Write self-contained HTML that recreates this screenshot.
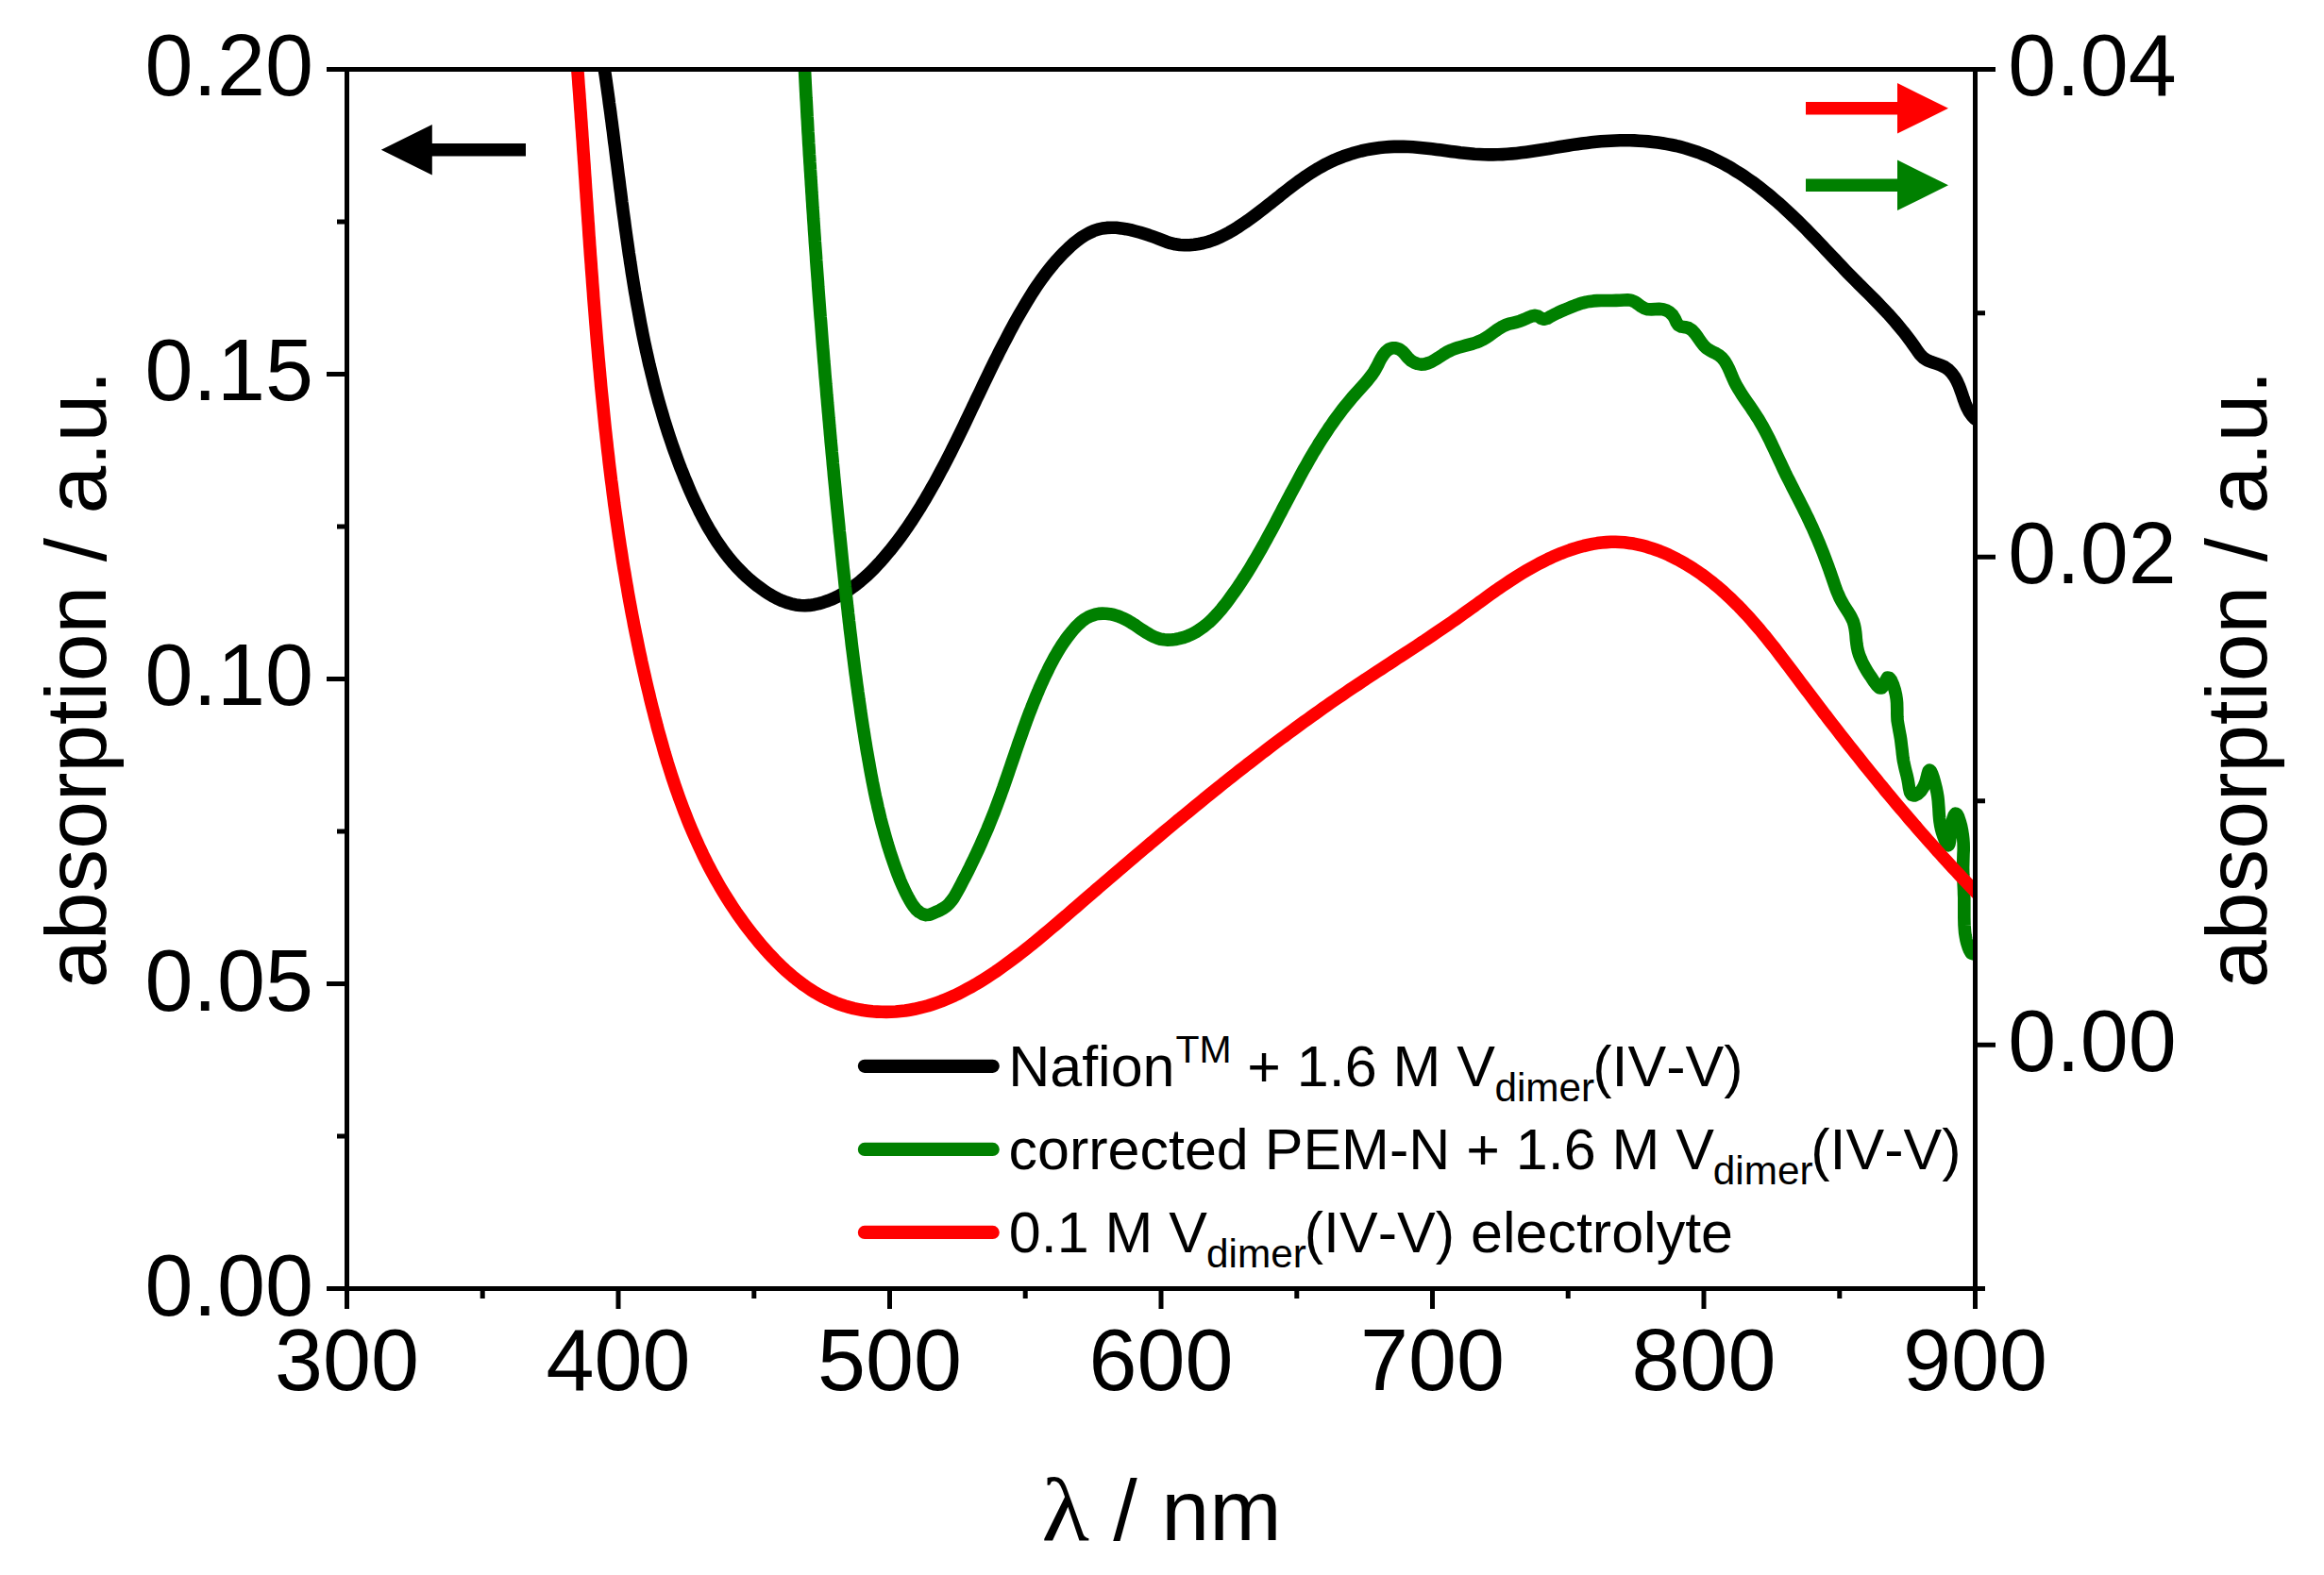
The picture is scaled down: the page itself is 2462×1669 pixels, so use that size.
<!DOCTYPE html>
<html lang="en"><head><meta charset="utf-8"><title>UV/Vis absorption</title>
<style>
html,body{margin:0;padding:0;background:#fff;}
body{width:2462px;height:1669px;overflow:hidden;}
svg{display:block;}
text{font-family:"Liberation Sans",Arial,Helvetica,sans-serif;fill:#000;font-kerning:none;}
.tk{font-size:91.67px;}
.dg{font-size:93.50px;}
.lg{font-size:61.0px;}
.sm{font-size:42.3px;}
.sp{font-size:41px;}
.gr{font-family:"Liberation Serif","DejaVu Serif",serif;}
.ax{stroke:#000;stroke-width:5.0;fill:none;stroke-linecap:butt;}
.cv{fill:none;stroke-width:13.6;stroke-linejoin:round;stroke-linecap:round;}
</style></head><body>
<svg width="2462" height="1669" viewBox="0 0 2462 1669">
<rect width="2462" height="1669" fill="#fff"/>
<defs><clipPath id="pc"><rect x="367.5" y="73.4" width="1725.0" height="1292.2"/></clipPath></defs>
<g clip-path="url(#pc)">
<path class="cv" stroke="#000" d="M638.3 60.1L639.0 65.0L639.8 70.0L640.5 74.9L641.3 79.9L642.0 84.8L642.7 89.8L643.4 94.7L644.1 99.7L644.8 104.6L645.4 109.6L646.1 114.5L646.8 119.5L647.4 124.5L648.1 129.4L648.7 134.4L649.4 139.4L650.0 144.4L650.6 149.3L651.3 154.3L651.9 159.3L652.5 164.3L653.1 169.2L653.8 174.2L654.4 179.2L655.0 184.2L655.7 189.2L656.3 194.1L656.9 199.1L657.6 204.1L658.2 209.1L658.8 214.1L659.5 219.0L660.1 224.0L660.8 229.0L661.5 234.0L662.1 238.9L662.8 243.9L663.5 248.9L664.2 253.9L664.9 258.8L665.6 263.8L666.3 268.8L667.1 273.7L667.8 278.7L668.6 283.6L669.3 288.6L670.1 293.5L670.9 298.5L671.7 303.4L672.5 308.4L673.4 313.3L674.2 318.3L675.1 323.2L676.0 328.1L676.9 333.0L677.8 338.0L678.7 342.9L679.7 347.8L680.6 352.7L681.6 357.6L682.6 362.5L683.7 367.4L684.7 372.3L685.8 377.1L686.9 382.0L688.0 386.9L689.2 391.7L690.4 396.6L691.6 401.4L692.8 406.3L694.0 411.1L695.3 416.0L696.6 420.8L697.9 425.6L699.3 430.4L700.7 435.2L702.1 440.0L703.5 444.8L705.0 449.6L706.5 454.4L708.0 459.1L709.6 463.9L711.2 468.6L712.8 473.4L714.5 478.1L716.2 482.8L717.9 487.5L719.7 492.3L721.5 497.0L723.4 501.6L725.2 506.3L727.2 511.0L729.1 515.6L731.1 520.3L733.1 524.9L735.2 529.5L737.4 534.1L739.6 538.6L741.8 543.2L744.1 547.6L746.5 552.1L748.9 556.5L751.4 560.8L754.0 565.1L756.6 569.4L759.3 573.6L762.1 577.7L765.0 581.8L767.9 585.7L771.0 589.7L774.1 593.5L777.3 597.3L780.6 601.0L784.1 604.6L787.6 608.1L791.2 611.5L794.9 614.8L798.8 618.0L802.7 621.1L806.8 624.1L810.9 627.0L815.2 629.7L819.6 632.3L824.1 634.6L828.7 636.7L833.3 638.4L838.1 639.8L842.9 640.9L847.8 641.5L852.7 641.7L857.6 641.4L862.6 640.7L867.5 639.6L872.4 638.2L877.3 636.5L882.1 634.6L886.7 632.4L891.2 630.0L895.6 627.4L899.8 624.7L903.9 621.8L907.9 618.8L911.7 615.7L915.5 612.4L919.2 609.1L922.8 605.6L926.3 602.1L929.7 598.4L933.1 594.8L936.4 591.0L939.6 587.2L942.8 583.4L945.9 579.5L949.0 575.6L952.0 571.6L955.0 567.6L957.9 563.5L960.8 559.4L963.6 555.2L966.4 551.1L969.1 546.9L971.8 542.6L974.5 538.4L977.1 534.1L979.7 529.8L982.2 525.4L984.7 521.1L987.2 516.7L989.7 512.4L992.1 508.0L994.5 503.6L996.8 499.2L999.2 494.7L1001.5 490.3L1003.8 485.8L1006.1 481.4L1008.3 476.9L1010.6 472.4L1012.8 467.9L1015.0 463.4L1017.2 458.9L1019.4 454.4L1021.6 449.9L1023.8 445.3L1025.9 440.8L1028.1 436.3L1030.2 431.7L1032.4 427.2L1034.5 422.7L1036.7 418.2L1038.9 413.6L1041.0 409.1L1043.2 404.6L1045.4 400.1L1047.5 395.6L1049.7 391.1L1051.9 386.6L1054.1 382.1L1056.4 377.6L1058.6 373.1L1060.9 368.6L1063.2 364.2L1065.5 359.8L1067.8 355.3L1070.1 350.9L1072.5 346.5L1074.9 342.1L1077.3 337.8L1079.8 333.4L1082.3 329.1L1084.8 324.8L1087.4 320.5L1090.0 316.2L1092.6 312.0L1095.3 307.8L1098.1 303.6L1100.9 299.5L1103.8 295.4L1106.7 291.4L1109.8 287.4L1112.9 283.5L1116.1 279.6L1119.4 275.8L1122.8 272.1L1126.3 268.4L1130.0 264.8L1133.7 261.3L1137.5 257.9L1141.5 254.7L1145.5 251.8L1149.7 249.1L1154.1 246.7L1158.5 244.7L1163.1 243.1L1167.8 242.0L1172.6 241.4L1177.6 241.2L1182.6 241.3L1187.7 241.9L1192.8 242.7L1197.8 243.7L1202.8 245.0L1207.7 246.3L1212.6 247.8L1217.3 249.3L1221.9 250.9L1226.5 252.6L1231.0 254.4L1235.6 256.2L1240.3 257.7L1245.1 258.8L1250.0 259.5L1255.0 259.8L1260.0 259.7L1265.1 259.3L1270.0 258.5L1274.9 257.5L1279.7 256.2L1284.4 254.6L1289.1 252.8L1293.6 250.8L1298.0 248.5L1302.4 246.2L1306.8 243.6L1311.0 241.0L1315.2 238.2L1319.4 235.4L1323.5 232.5L1327.6 229.5L1331.6 226.5L1335.6 223.4L1339.6 220.3L1343.6 217.2L1347.6 214.1L1351.5 210.9L1355.5 207.8L1359.4 204.6L1363.4 201.5L1367.4 198.4L1371.4 195.4L1375.4 192.4L1379.5 189.5L1383.6 186.6L1387.7 183.9L1391.9 181.2L1396.2 178.6L1400.5 176.2L1404.8 173.8L1409.3 171.6L1413.8 169.5L1418.4 167.6L1423.0 165.8L1427.7 164.2L1432.5 162.6L1437.3 161.3L1442.1 160.0L1447.0 158.9L1451.9 158.0L1456.9 157.2L1461.8 156.5L1466.8 156.0L1471.8 155.6L1476.8 155.4L1481.9 155.3L1486.9 155.4L1491.9 155.5L1496.9 155.8L1501.9 156.2L1507.0 156.7L1512.0 157.2L1517.0 157.8L1522.0 158.4L1527.0 159.1L1532.0 159.7L1537.0 160.4L1542.0 161.0L1547.0 161.7L1552.0 162.2L1557.0 162.7L1562.0 163.2L1567.0 163.5L1571.9 163.8L1576.9 163.9L1581.9 163.9L1586.8 163.8L1591.8 163.6L1596.7 163.3L1601.7 162.9L1606.6 162.4L1611.6 161.8L1616.5 161.2L1621.5 160.5L1626.4 159.8L1631.4 159.0L1636.3 158.3L1641.3 157.5L1646.2 156.6L1651.2 155.8L1656.2 155.0L1661.1 154.2L1666.1 153.4L1671.1 152.7L1676.1 152.0L1681.1 151.4L1686.1 150.8L1691.1 150.3L1696.1 149.8L1701.2 149.5L1706.2 149.2L1711.2 149.0L1716.2 148.8L1721.3 148.8L1726.3 148.8L1731.3 148.9L1736.3 149.2L1741.3 149.5L1746.2 149.9L1751.2 150.4L1756.1 151.0L1761.0 151.7L1765.9 152.6L1770.8 153.5L1775.6 154.5L1780.4 155.7L1785.2 157.0L1789.9 158.4L1794.6 159.9L1799.3 161.5L1803.9 163.3L1808.4 165.1L1813.0 167.1L1817.5 169.3L1821.9 171.5L1826.3 173.8L1830.7 176.2L1835.0 178.7L1839.3 181.4L1843.6 184.1L1847.8 186.8L1851.9 189.7L1856.1 192.6L1860.2 195.6L1864.2 198.7L1868.2 201.8L1872.2 205.0L1876.1 208.3L1880.0 211.6L1883.9 214.9L1887.7 218.3L1891.4 221.7L1895.2 225.2L1898.9 228.7L1902.5 232.2L1906.2 235.7L1909.7 239.2L1913.3 242.8L1916.8 246.4L1920.2 249.9L1923.7 253.5L1927.1 257.1L1930.5 260.7L1933.9 264.3L1937.3 267.9L1940.7 271.4L1944.1 275.0L1947.5 278.6L1950.9 282.2L1954.3 285.8L1957.8 289.4L1961.3 293.0L1964.8 296.5L1968.3 300.1L1971.9 303.6L1975.5 307.2L1979.1 310.8L1982.6 314.3L1986.2 317.9L1989.7 321.5L1993.1 325.1L1996.6 328.7L2000.0 332.3L2003.3 336.0L2006.6 339.7L2009.8 343.5L2013.0 347.3L2016.2 351.2L2019.3 355.2L2022.3 359.2L2025.3 363.2L2028.2 367.3L2031.1 371.5L2034.0 375.5L2037.4 379.0L2041.3 381.6L2045.9 383.5L2050.8 385.1L2055.7 386.8L2060.3 389.0L2064.2 391.8L2067.6 395.2L2070.5 399.2L2073.0 403.6L2075.1 408.2L2076.9 413.0L2078.6 417.8L2080.2 422.6L2081.9 427.3L2083.8 431.9L2086.1 436.2L2089.0 440.3L2092.5 444.1"/>
<path class="cv" stroke="#008000" d="M851.8 60.0L852.0 64.0L852.2 68.0L852.4 72.0L852.6 76.0L852.8 80.0L853.0 84.0L853.2 88.0L853.4 92.0L853.6 96.0L853.8 100.0L854.0 104.0L854.3 108.0L854.5 111.9L854.7 115.9L854.9 119.9L855.1 123.9L855.4 127.9L855.6 131.9L855.8 135.9L856.0 139.9L856.3 143.9L856.5 147.9L856.7 151.9L857.0 155.9L857.2 159.9L857.4 163.9L857.7 167.9L857.9 171.9L858.2 175.9L858.4 179.9L858.7 183.9L858.9 187.8L859.2 191.8L859.4 195.8L859.7 199.8L859.9 203.8L860.2 207.8L860.4 211.8L860.7 215.8L860.9 219.8L861.2 223.8L861.5 227.8L861.7 231.8L862.0 235.8L862.3 239.8L862.5 243.8L862.8 247.7L863.1 251.7L863.3 255.7L863.6 259.7L863.9 263.7L864.2 267.7L864.5 271.7L864.7 275.7L865.0 279.7L865.3 283.7L865.6 287.7L865.9 291.7L866.2 295.7L866.5 299.6L866.7 303.6L867.0 307.6L867.3 311.6L867.6 315.6L867.9 319.6L868.2 323.6L868.5 327.6L868.8 331.6L869.1 335.6L869.5 339.6L869.8 343.6L870.1 347.5L870.4 351.5L870.7 355.5L871.0 359.5L871.3 363.5L871.6 367.5L872.0 371.5L872.3 375.5L872.6 379.5L872.9 383.4L873.3 387.4L873.6 391.4L873.9 395.4L874.2 399.4L874.6 403.4L874.9 407.4L875.3 411.4L875.6 415.4L875.9 419.3L876.3 423.3L876.6 427.3L877.0 431.3L877.3 435.3L877.7 439.3L878.0 443.3L878.4 447.3L878.7 451.2L879.1 455.2L879.4 459.2L879.8 463.2L880.1 467.2L880.5 471.2L880.9 475.2L881.2 479.1L881.6 483.1L882.0 487.1L882.3 491.1L882.7 495.1L883.1 499.1L883.4 503.0L883.8 507.0L884.2 511.0L884.6 515.0L885.0 519.0L885.3 523.0L885.7 526.9L886.1 530.9L886.5 534.9L886.9 538.9L887.3 542.9L887.7 546.9L888.1 550.8L888.5 554.8L888.9 558.8L889.2 562.8L889.7 566.8L890.1 570.7L890.5 574.7L890.9 578.7L891.3 582.7L891.7 586.7L892.1 590.6L892.5 594.6L892.9 598.6L893.3 602.6L893.8 606.6L894.2 610.5L894.6 614.5L895.0 618.5L895.4 622.5L895.9 626.4L896.3 630.4L896.7 634.4L897.2 638.4L897.6 642.4L898.1 646.3L898.5 650.3L899.0 654.3L899.4 658.3L899.9 662.2L900.3 666.2L900.8 670.2L901.3 674.1L901.8 678.1L902.2 682.1L902.7 686.1L903.2 690.0L903.7 694.0L904.2 698.0L904.7 701.9L905.2 705.9L905.7 709.9L906.2 713.8L906.8 717.8L907.3 721.8L907.8 725.7L908.4 729.7L908.9 733.7L909.5 737.6L910.0 741.6L910.6 745.6L911.2 749.5L911.7 753.5L912.3 757.4L912.9 761.4L913.5 765.3L914.1 769.3L914.7 773.3L915.4 777.2L916.0 781.2L916.6 785.1L917.3 789.1L917.9 793.0L918.6 797.0L919.3 800.9L920.0 804.9L920.7 808.8L921.4 812.8L922.1 816.7L922.8 820.6L923.6 824.6L924.3 828.5L925.1 832.4L925.9 836.4L926.7 840.3L927.5 844.2L928.4 848.1L929.3 852.0L930.1 855.9L931.1 859.8L932.0 863.7L932.9 867.6L933.9 871.5L934.9 875.3L936.0 879.2L937.0 883.0L938.1 886.9L939.2 890.7L940.3 894.6L941.5 898.4L942.7 902.2L943.9 906.0L945.2 909.8L946.5 913.6L947.8 917.4L949.1 921.1L950.5 924.9L952.0 928.6L953.4 932.4L955.0 936.1L956.6 939.7L958.3 943.3L960.0 946.9L961.9 950.5L963.8 953.9L965.9 957.4L968.1 960.7L970.7 963.8L973.8 966.5L977.4 968.6L981.1 969.6L984.9 969.2L988.6 967.7L992.4 966.1L996.2 964.3L999.8 962.3L1003.0 960.0L1005.8 957.2L1008.3 954.2L1010.6 951.0L1012.6 947.5L1014.6 944.0L1016.5 940.5L1018.4 936.9L1020.2 933.3L1022.1 929.8L1023.9 926.2L1025.7 922.6L1027.5 919.0L1029.2 915.4L1031.0 911.8L1032.7 908.2L1034.4 904.6L1036.1 901.0L1037.8 897.4L1039.4 893.7L1041.0 890.1L1042.6 886.4L1044.2 882.8L1045.8 879.1L1047.3 875.4L1048.8 871.7L1050.3 868.0L1051.8 864.3L1053.3 860.6L1054.7 856.9L1056.1 853.1L1057.5 849.4L1058.9 845.6L1060.3 841.9L1061.6 838.1L1063.0 834.3L1064.3 830.5L1065.6 826.7L1066.9 823.0L1068.2 819.2L1069.5 815.4L1070.8 811.6L1072.1 807.8L1073.4 804.0L1074.7 800.2L1076.0 796.4L1077.3 792.6L1078.6 788.8L1079.9 785.0L1081.3 781.2L1082.6 777.5L1083.9 773.7L1085.3 769.9L1086.6 766.2L1088.0 762.4L1089.4 758.7L1090.8 754.9L1092.3 751.2L1093.7 747.5L1095.2 743.8L1096.7 740.1L1098.2 736.4L1099.8 732.7L1101.3 729.0L1102.9 725.4L1104.6 721.8L1106.2 718.2L1107.9 714.6L1109.7 711.0L1111.4 707.4L1113.2 703.9L1115.1 700.3L1117.0 696.8L1119.0 693.4L1121.0 689.9L1123.1 686.5L1125.2 683.1L1127.5 679.8L1129.8 676.5L1132.3 673.3L1134.8 670.1L1137.4 667.0L1140.2 663.9L1143.1 661.1L1146.1 658.4L1149.3 656.0L1152.7 654.0L1156.2 652.4L1160.0 651.2L1163.9 650.4L1167.9 650.1L1171.9 650.2L1175.9 650.7L1179.9 651.5L1183.8 652.7L1187.5 654.1L1191.1 655.7L1194.6 657.6L1198.1 659.6L1201.5 661.7L1204.8 664.0L1208.2 666.3L1211.6 668.5L1215.0 670.7L1218.4 672.7L1221.9 674.5L1225.6 676.0L1229.3 677.2L1233.2 677.8L1237.2 678.1L1241.2 678.0L1245.2 677.5L1249.2 676.7L1253.2 675.7L1257.0 674.4L1260.7 672.8L1264.3 671.1L1267.7 669.2L1271.0 667.1L1274.2 664.8L1277.3 662.4L1280.3 659.9L1283.2 657.2L1286.0 654.4L1288.7 651.5L1291.4 648.5L1294.0 645.5L1296.5 642.3L1299.0 639.2L1301.4 635.9L1303.8 632.7L1306.1 629.4L1308.5 626.2L1310.8 622.9L1313.0 619.5L1315.2 616.2L1317.4 612.8L1319.6 609.5L1321.7 606.1L1323.8 602.7L1325.9 599.2L1327.9 595.8L1330.0 592.4L1332.0 588.9L1334.0 585.4L1336.0 582.0L1337.9 578.5L1339.9 575.0L1341.8 571.5L1343.7 567.9L1345.6 564.4L1347.5 560.9L1349.4 557.4L1351.3 553.8L1353.1 550.3L1355.0 546.7L1356.9 543.2L1358.7 539.6L1360.6 536.1L1362.4 532.6L1364.3 529.0L1366.2 525.5L1368.0 521.9L1369.9 518.4L1371.8 514.9L1373.7 511.4L1375.6 507.8L1377.5 504.3L1379.4 500.8L1381.3 497.3L1383.3 493.9L1385.2 490.4L1387.2 486.9L1389.2 483.5L1391.2 480.0L1393.3 476.6L1395.4 473.2L1397.4 469.8L1399.6 466.4L1401.7 463.1L1403.9 459.7L1406.1 456.4L1408.3 453.1L1410.6 449.8L1412.9 446.5L1415.2 443.3L1417.6 440.1L1420.0 436.9L1422.4 433.7L1424.9 430.5L1427.4 427.4L1430.0 424.3L1432.6 421.2L1435.2 418.2L1437.9 415.2L1440.6 412.2L1443.3 409.2L1446.0 406.2L1448.6 403.2L1451.1 400.1L1453.5 397.0L1455.7 393.7L1457.7 390.3L1459.6 386.8L1461.3 383.2L1463.2 379.6L1465.5 376.0L1468.1 372.7L1471.3 370.1L1474.8 368.7L1478.8 368.8L1482.6 370.2L1485.9 372.7L1488.7 375.7L1491.3 378.9L1494.2 381.7L1497.6 383.9L1501.4 385.4L1505.3 386.1L1509.1 385.9L1512.7 384.9L1516.3 383.5L1519.7 381.5L1523.2 379.4L1526.7 377.1L1530.2 374.8L1533.7 372.7L1537.4 371.0L1541.1 369.5L1544.9 368.3L1548.8 367.2L1552.6 366.2L1556.5 365.1L1560.3 364.1L1564.0 362.9L1567.7 361.4L1571.3 359.7L1574.7 357.7L1578.1 355.4L1581.4 352.9L1584.7 350.5L1588.1 348.2L1591.5 346.1L1595.0 344.5L1598.7 343.2L1602.5 342.3L1606.4 341.3L1610.4 340.2L1614.3 338.7L1618.3 336.8L1622.2 335.2L1626.0 334.3L1629.4 335.1L1632.6 337.2L1635.8 338.3L1639.3 337.3L1642.9 335.2L1646.6 333.3L1650.2 331.5L1653.9 329.8L1657.5 328.2L1661.2 326.7L1665.0 325.2L1668.7 323.7L1672.5 322.3L1676.3 321.1L1680.2 320.1L1684.1 319.4L1688.0 318.9L1692.0 318.6L1696.0 318.5L1700.0 318.5L1704.0 318.5L1708.0 318.5L1712.1 318.4L1716.1 318.3L1720.2 318.0L1724.2 317.8L1728.0 318.2L1731.6 319.7L1735.0 322.0L1738.3 324.4L1741.8 326.6L1745.4 327.8L1749.4 327.9L1753.4 327.6L1757.6 327.4L1761.6 327.7L1765.5 328.9L1769.0 331.1L1772.0 334.0L1774.2 337.5L1775.9 341.3L1777.9 344.5L1781.1 346.1L1785.1 346.7L1789.0 347.7L1792.3 349.8L1795.1 352.7L1797.7 356.1L1800.0 359.5L1802.4 362.9L1804.9 366.1L1807.7 368.8L1810.9 371.0L1814.5 372.9L1818.1 374.7L1821.5 376.8L1824.5 379.4L1827.0 382.5L1829.1 386.0L1831.0 389.6L1832.7 393.4L1834.2 397.1L1835.8 400.7L1837.4 404.4L1839.2 407.9L1841.2 411.4L1843.3 414.8L1845.4 418.2L1847.6 421.5L1849.9 424.8L1852.2 428.1L1854.5 431.4L1856.7 434.8L1858.9 438.1L1861.1 441.5L1863.3 444.8L1865.3 448.3L1867.3 451.7L1869.2 455.2L1871.1 458.8L1872.9 462.3L1874.7 465.9L1876.4 469.5L1878.1 473.1L1879.8 476.7L1881.5 480.3L1883.2 484.0L1884.9 487.6L1886.6 491.2L1888.3 494.9L1890.0 498.5L1891.7 502.1L1893.5 505.7L1895.3 509.2L1897.1 512.8L1898.9 516.4L1900.7 519.9L1902.5 523.5L1904.4 527.1L1906.2 530.6L1908.0 534.2L1909.8 537.8L1911.6 541.4L1913.3 544.9L1915.1 548.5L1916.8 552.1L1918.5 555.8L1920.2 559.4L1921.8 563.1L1923.4 566.7L1925.0 570.4L1926.6 574.1L1928.1 577.8L1929.6 581.5L1931.1 585.2L1932.5 588.9L1933.9 592.7L1935.3 596.4L1936.7 600.2L1938.1 604.0L1939.4 607.8L1940.7 611.5L1942.0 615.3L1943.3 619.1L1944.6 622.9L1946.0 626.6L1947.6 630.3L1949.2 634.0L1951.1 637.5L1953.1 641.0L1955.3 644.5L1957.5 647.9L1959.6 651.3L1961.5 654.8L1963.2 658.4L1964.3 662.1L1965.1 665.9L1965.7 669.9L1966.1 673.9L1966.4 677.9L1966.9 682.0L1967.5 686.0L1968.4 690.0L1969.6 693.9L1971.1 697.7L1972.7 701.4L1974.4 704.9L1976.3 708.3L1978.2 711.5L1980.3 714.7L1982.7 718.2L1985.3 722.2L1988.3 726.3L1991.2 729.0L1993.7 728.9L1995.8 725.6L1997.7 721.3L1999.5 718.1L2001.5 718.2L2003.6 721.1L2005.6 725.7L2007.3 731.1L2008.5 736.2L2009.2 740.7L2009.6 744.9L2009.7 748.8L2009.8 752.5L2009.8 756.1L2009.9 759.6L2010.1 763.3L2010.7 767.0L2011.4 770.9L2012.1 774.9L2012.9 779.0L2013.6 783.1L2014.1 787.1L2014.6 791.2L2015.1 795.2L2015.5 799.2L2016.0 803.1L2016.6 806.9L2017.4 810.6L2018.2 814.2L2019.1 817.9L2020.1 821.7L2021.0 825.8L2021.8 830.3L2022.5 835.1L2023.5 839.5L2025.2 842.4L2028.1 843.0L2031.7 841.3L2035.2 838.0L2037.9 833.6L2039.9 828.7L2041.2 824.0L2042.2 819.9L2043.1 817.0L2044.1 816.0L2045.4 817.1L2046.7 819.9L2048.2 824.0L2049.6 829.0L2050.9 834.3L2052.0 839.4L2052.8 844.1L2053.3 848.4L2053.6 852.5L2053.9 856.2L2054.1 859.9L2054.3 863.4L2054.6 866.9L2055.0 870.5L2055.6 874.3L2056.4 878.1L2057.5 882.1L2058.9 886.4L2060.6 890.8L2062.4 894.5L2063.9 895.9L2064.9 894.4L2065.6 890.7L2066.2 885.5L2066.9 879.5L2067.7 873.4L2068.8 868.1L2070.1 864.1L2071.5 862.1L2073.1 862.8L2074.7 865.8L2076.2 870.3L2077.6 875.4L2078.6 880.4L2079.3 885.1L2079.8 889.4L2080.1 893.5L2080.2 897.4L2080.2 901.2L2080.0 904.8L2079.9 908.4L2079.8 912.0L2079.7 915.7L2079.6 919.4L2079.7 923.2L2079.8 927.1L2080.0 931.1L2080.1 935.1L2080.3 939.1L2080.5 943.2L2080.6 947.4L2080.8 951.5L2080.8 955.6L2080.8 959.8L2080.8 963.9L2080.8 968.0L2080.8 972.1L2080.9 976.2L2081.0 980.2L2081.3 984.2L2081.6 988.1L2082.2 992.0L2082.9 995.8L2083.8 999.5L2085.0 1003.2L2086.4 1006.8L2088.2 1010.1L2092.2 1011.4"/>
<path class="cv" stroke="#f00" d="M610.8 60.1L611.2 65.1L611.6 70.0L611.9 75.0L612.3 80.0L612.7 85.0L613.0 89.9L613.4 94.9L613.8 99.9L614.1 104.9L614.5 109.9L614.8 114.9L615.2 119.8L615.5 124.8L615.9 129.8L616.2 134.8L616.6 139.8L616.9 144.8L617.3 149.8L617.6 154.8L617.9 159.7L618.3 164.7L618.6 169.7L619.0 174.7L619.3 179.7L619.6 184.7L620.0 189.7L620.3 194.7L620.6 199.7L621.0 204.7L621.3 209.7L621.7 214.7L622.0 219.7L622.3 224.6L622.7 229.6L623.0 234.6L623.4 239.6L623.7 244.6L624.0 249.6L624.4 254.6L624.7 259.6L625.1 264.6L625.4 269.6L625.8 274.6L626.2 279.6L626.5 284.6L626.9 289.6L627.3 294.6L627.6 299.6L628.0 304.6L628.4 309.6L628.7 314.6L629.1 319.6L629.5 324.5L629.9 329.5L630.3 334.5L630.7 339.5L631.1 344.5L631.5 349.5L631.9 354.5L632.3 359.5L632.7 364.5L633.2 369.5L633.6 374.5L634.0 379.5L634.5 384.4L634.9 389.4L635.4 394.4L635.8 399.4L636.3 404.4L636.7 409.4L637.2 414.4L637.7 419.3L638.2 424.3L638.7 429.3L639.2 434.3L639.7 439.3L640.2 444.2L640.7 449.2L641.2 454.2L641.8 459.2L642.3 464.1L642.9 469.1L643.4 474.1L644.0 479.1L644.6 484.0L645.1 489.0L645.7 494.0L646.3 498.9L646.9 503.9L647.5 508.9L648.2 513.8L648.8 518.8L649.4 523.7L650.1 528.7L650.7 533.7L651.4 538.6L652.1 543.6L652.8 548.5L653.5 553.5L654.2 558.4L654.9 563.4L655.6 568.3L656.4 573.3L657.1 578.2L657.9 583.1L658.7 588.1L659.4 593.0L660.2 598.0L661.0 602.9L661.9 607.8L662.7 612.8L663.5 617.7L664.4 622.6L665.2 627.5L666.1 632.5L667.0 637.4L667.9 642.3L668.8 647.2L669.7 652.1L670.7 657.0L671.6 661.9L672.6 666.9L673.6 671.8L674.6 676.7L675.6 681.6L676.6 686.5L677.6 691.4L678.7 696.3L679.7 701.2L680.8 706.0L681.9 710.9L683.0 715.8L684.1 720.7L685.2 725.6L686.4 730.5L687.6 735.3L688.7 740.2L689.9 745.1L691.1 749.9L692.4 754.8L693.6 759.7L694.9 764.5L696.1 769.4L697.4 774.2L698.8 779.1L700.1 783.9L701.5 788.7L702.8 793.5L704.2 798.4L705.7 803.2L707.1 808.0L708.6 812.7L710.1 817.5L711.6 822.3L713.2 827.0L714.8 831.8L716.4 836.5L718.1 841.2L719.7 845.9L721.5 850.6L723.2 855.3L725.0 860.0L726.8 864.6L728.6 869.2L730.5 873.9L732.4 878.4L734.4 883.0L736.4 887.6L738.4 892.1L740.5 896.7L742.6 901.2L744.7 905.7L746.9 910.1L749.1 914.6L751.4 919.0L753.7 923.4L756.1 927.8L758.5 932.1L761.0 936.5L763.5 940.8L766.0 945.0L768.6 949.3L771.3 953.5L774.0 957.7L776.7 961.9L779.5 966.1L782.4 970.2L785.3 974.3L788.2 978.4L791.2 982.4L794.3 986.4L797.4 990.4L800.6 994.3L803.8 998.3L807.1 1002.1L810.5 1006.0L813.9 1009.8L817.4 1013.5L820.9 1017.2L824.5 1020.8L828.1 1024.3L831.8 1027.8L835.6 1031.1L839.4 1034.4L843.3 1037.6L847.3 1040.7L851.3 1043.7L855.4 1046.5L859.5 1049.2L863.8 1051.9L868.0 1054.3L872.4 1056.7L876.8 1058.9L881.2 1060.9L885.8 1062.8L890.4 1064.5L895.0 1066.0L899.8 1067.4L904.5 1068.6L909.4 1069.6L914.2 1070.5L919.2 1071.2L924.1 1071.8L929.1 1072.1L934.0 1072.3L939.0 1072.4L944.0 1072.3L949.0 1072.0L953.9 1071.5L958.9 1071.0L963.8 1070.2L968.7 1069.3L973.6 1068.2L978.4 1067.0L983.2 1065.7L987.9 1064.2L992.6 1062.6L997.3 1060.9L1001.9 1059.0L1006.6 1057.0L1011.1 1055.0L1015.6 1052.8L1020.1 1050.5L1024.6 1048.1L1029.0 1045.7L1033.4 1043.2L1037.7 1040.6L1042.0 1037.9L1046.3 1035.2L1050.6 1032.4L1054.8 1029.6L1058.9 1026.7L1063.0 1023.8L1067.1 1020.8L1071.2 1017.8L1075.2 1014.8L1079.2 1011.8L1083.1 1008.7L1087.1 1005.6L1091.0 1002.5L1094.9 999.4L1098.7 996.2L1102.6 993.0L1106.4 989.8L1110.2 986.6L1114.0 983.4L1117.8 980.2L1121.6 977.0L1125.4 973.7L1129.2 970.5L1132.9 967.2L1136.7 963.9L1140.5 960.7L1144.3 957.4L1148.0 954.2L1151.8 950.9L1155.6 947.6L1159.4 944.4L1163.1 941.1L1166.9 937.9L1170.7 934.6L1174.5 931.4L1178.3 928.1L1182.1 924.8L1185.9 921.6L1189.7 918.3L1193.5 915.1L1197.3 911.9L1201.1 908.6L1204.9 905.4L1208.8 902.1L1212.6 898.9L1216.4 895.7L1220.2 892.4L1224.1 889.2L1227.9 886.0L1231.7 882.8L1235.6 879.6L1239.4 876.4L1243.3 873.1L1247.1 869.9L1251.0 866.8L1254.8 863.6L1258.7 860.4L1262.6 857.2L1266.5 854.0L1270.3 850.9L1274.2 847.7L1278.1 844.5L1282.0 841.4L1285.9 838.2L1289.8 835.1L1293.7 832.0L1297.6 828.8L1301.6 825.7L1305.5 822.6L1309.4 819.5L1313.3 816.4L1317.3 813.3L1321.2 810.2L1325.2 807.2L1329.2 804.1L1333.1 801.1L1337.1 798.0L1341.1 795.0L1345.1 791.9L1349.0 788.9L1353.0 785.9L1357.0 782.9L1361.1 779.9L1365.1 776.9L1369.1 774.0L1373.1 771.0L1377.2 768.0L1381.2 765.1L1385.3 762.2L1389.3 759.3L1393.4 756.4L1397.5 753.5L1401.5 750.6L1405.6 747.7L1409.7 744.8L1413.8 742.0L1417.9 739.2L1422.1 736.3L1426.2 733.5L1430.3 730.7L1434.5 727.9L1438.6 725.2L1442.8 722.4L1446.9 719.6L1451.1 716.9L1455.3 714.1L1459.4 711.4L1463.6 708.7L1467.8 705.9L1472.0 703.2L1476.1 700.5L1480.3 697.7L1484.5 695.0L1488.7 692.3L1492.8 689.6L1497.0 686.8L1501.2 684.1L1505.3 681.3L1509.5 678.6L1513.6 675.8L1517.8 673.0L1521.9 670.2L1526.0 667.4L1530.1 664.6L1534.2 661.8L1538.3 659.0L1542.4 656.1L1546.5 653.2L1550.5 650.3L1554.6 647.4L1558.6 644.5L1562.7 641.6L1566.7 638.6L1570.8 635.7L1574.8 632.8L1578.9 629.8L1583.0 626.9L1587.1 624.0L1591.3 621.2L1595.5 618.3L1599.7 615.5L1604.0 612.7L1608.3 610.0L1612.7 607.3L1617.1 604.7L1621.6 602.1L1626.1 599.6L1630.6 597.1L1635.2 594.8L1639.8 592.5L1644.5 590.3L1649.2 588.3L1653.9 586.3L1658.6 584.5L1663.3 582.8L1668.1 581.2L1672.9 579.8L1677.7 578.5L1682.5 577.4L1687.3 576.4L1692.1 575.6L1696.9 575.0L1701.7 574.6L1706.6 574.3L1711.4 574.3L1716.2 574.5L1721.0 574.8L1725.8 575.4L1730.5 576.1L1735.3 577.1L1740.0 578.2L1744.7 579.4L1749.4 580.9L1754.0 582.5L1758.7 584.2L1763.2 586.1L1767.8 588.1L1772.3 590.3L1776.8 592.6L1781.2 595.0L1785.6 597.5L1789.9 600.1L1794.2 602.8L1798.4 605.6L1802.6 608.5L1806.6 611.5L1810.7 614.6L1814.7 617.7L1818.6 620.9L1822.4 624.2L1826.2 627.5L1829.9 630.9L1833.5 634.3L1837.1 637.8L1840.7 641.3L1844.2 644.9L1847.6 648.6L1851.0 652.2L1854.4 655.9L1857.7 659.7L1861.0 663.5L1864.3 667.3L1867.5 671.2L1870.7 675.0L1873.8 678.9L1877.0 682.9L1880.1 686.8L1883.2 690.8L1886.2 694.8L1889.3 698.8L1892.3 702.8L1895.4 706.8L1898.4 710.8L1901.4 714.8L1904.4 718.8L1907.4 722.9L1910.4 726.9L1913.4 730.9L1916.5 734.9L1919.5 738.9L1922.5 742.9L1925.5 746.9L1928.6 750.9L1931.6 754.9L1934.7 758.8L1937.7 762.8L1940.8 766.8L1943.8 770.7L1946.9 774.7L1949.9 778.6L1953.0 782.5L1956.1 786.5L1959.2 790.4L1962.3 794.3L1965.4 798.2L1968.5 802.1L1971.6 806.0L1974.7 809.9L1977.8 813.8L1981.0 817.7L1984.1 821.5L1987.3 825.4L1990.4 829.3L1993.6 833.1L1996.7 837.0L1999.9 840.8L2003.1 844.6L2006.3 848.5L2009.5 852.3L2012.7 856.1L2016.0 859.9L2019.2 863.7L2022.4 867.5L2025.7 871.3L2029.0 875.0L2032.2 878.8L2035.5 882.6L2038.8 886.3L2042.1 890.1L2045.4 893.8L2048.8 897.5L2052.1 901.3L2055.5 905.0L2058.8 908.7L2062.2 912.4L2065.6 916.1L2069.0 919.8L2072.4 923.4L2075.8 927.1L2079.3 930.8L2082.7 934.4L2086.2 938.1L2089.6 941.7L2093.1 945.4L2096.6 949.0L2100.2 952.6"/>
</g>
<polygon fill="#000" points="557.0,152.0 457.8,152.0 457.8,131.9 403.8,158.7 457.8,185.5 457.8,165.4 557.0,165.4"/>
<polygon fill="#f00" points="1913.0,108.1 2010.0,108.1 2010.0,88.0 2064.0,114.8 2010.0,141.6 2010.0,121.5 1913.0,121.5"/>
<polygon fill="#008000" points="1913.0,189.6 2010.0,189.6 2010.0,169.5 2064.0,196.3 2010.0,223.1 2010.0,203.0 1913.0,203.0"/>
<path class="ax" d="M346.0 73.4H2114.0M346.0 1365.6H2103.0M367.5 73.4V1387.1M2092.5 73.4V1387.1M511.2 1365.6V1376.1M655.0 1365.6V1387.1M798.8 1365.6V1376.1M942.5 1365.6V1387.1M1086.2 1365.6V1376.1M1230.0 1365.6V1387.1M1373.8 1365.6V1376.1M1517.5 1365.6V1387.1M1661.2 1365.6V1376.1M1805.0 1365.6V1387.1M1948.8 1365.6V1376.1M367.5 1204.1H357.0M367.5 1042.5H346.0M367.5 881.0H357.0M367.5 719.5H346.0M367.5 558.0H357.0M367.5 396.4H346.0M367.5 234.9H357.0M2092.5 331.8H2103.0M2092.5 590.3H2114.0M2092.5 848.7H2103.0M2092.5 1107.2H2114.0"/>
<g class="tk">
<text class="dg" transform="translate(367.5 1472.8) scale(0.9804 1)" text-anchor="middle">300</text>
<text class="dg" transform="translate(655.0 1472.8) scale(0.9804 1)" text-anchor="middle">400</text>
<text class="dg" transform="translate(942.5 1472.8) scale(0.9804 1)" text-anchor="middle">500</text>
<text class="dg" transform="translate(1230.0 1472.8) scale(0.9804 1)" text-anchor="middle">600</text>
<text class="dg" transform="translate(1517.5 1472.8) scale(0.9804 1)" text-anchor="middle">700</text>
<text class="dg" transform="translate(1805.0 1472.8) scale(0.9804 1)" text-anchor="middle">800</text>
<text class="dg" transform="translate(2092.5 1472.8) scale(0.9804 1)" text-anchor="middle">900</text>
<text class="dg" transform="translate(332.0 1393.5) scale(0.9804 1)" text-anchor="end">0.00</text>
<text class="dg" transform="translate(332.0 1070.5) scale(0.9804 1)" text-anchor="end">0.05</text>
<text class="dg" transform="translate(332.0 747.4) scale(0.9804 1)" text-anchor="end">0.10</text>
<text class="dg" transform="translate(332.0 424.4) scale(0.9804 1)" text-anchor="end">0.15</text>
<text class="dg" transform="translate(332.0 101.3) scale(0.9804 1)" text-anchor="end">0.20</text>
<text class="dg" transform="translate(2127.3 1135.1) scale(0.9804 1)">0.00</text>
<text class="dg" transform="translate(2127.3 618.2) scale(0.9804 1)">0.02</text>
<text class="dg" transform="translate(2127.3 101.3) scale(0.9804 1)">0.04</text>
<text transform="translate(112.3 719.7) rotate(-90)" text-anchor="middle" style="font-size:91.3px">absorption / a.u.</text>
<text transform="translate(2400.7 719.7) rotate(-90)" text-anchor="middle" style="font-size:91.3px">absorption / a.u.</text>
<text transform="translate(1103.4 1631.8) scale(1.09 1)" class="gr" style="font-size:95.5px">λ</text>
<text x="1179.3" y="1631.8">/ nm</text>
</g>
<line x1="915.9" x2="1051.7" y1="1129.8" y2="1129.8" stroke="#000" stroke-width="14.2" stroke-linecap="round"/>
<line x1="915.9" x2="1051.7" y1="1217.9" y2="1217.9" stroke="#008000" stroke-width="14.2" stroke-linecap="round"/>
<line x1="915.9" x2="1051.7" y1="1305.9" y2="1305.9" stroke="#f00" stroke-width="14.2" stroke-linecap="round"/>
<g class="lg">
<text y="1151.0"><tspan x="1068.2">Nafion</tspan><tspan class="sp" x="1245.4" dy="-25.0">TM</tspan><tspan x="1321.2" dy="25.0">+ 1.6 M V</tspan><tspan class="sm" x="1583.4" dy="15.5">dimer</tspan><tspan x="1687.2" dy="-15.5">(IV-V)</tspan></text>
<text y="1239.0"><tspan x="1068.5">corrected PEM-N + 1.6 M V</tspan><tspan class="sm" x="1814.8" dy="15.5">dimer</tspan><tspan x="1918.3" dy="-15.5">(IV-V)</tspan></text>
<text y="1327.0"><tspan x="1068.8">0.1 M V</tspan><tspan class="sm" x="1278.0" dy="15.5">dimer</tspan><tspan x="1381.8" dy="-15.5">(IV-V) electrolyte</tspan></text>
</g>
</svg>
</body></html>
